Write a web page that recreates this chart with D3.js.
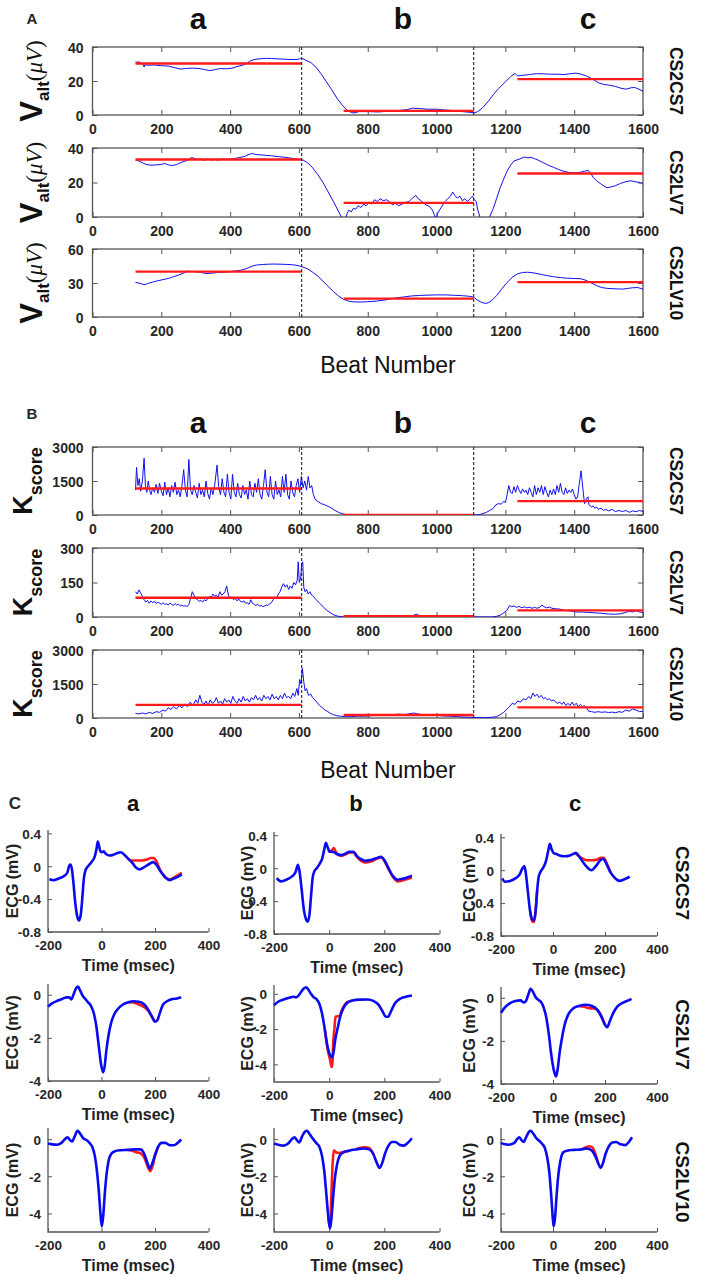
<!DOCTYPE html>
<html><head><meta charset="utf-8">
<script src="https://cdn.jsdelivr.net/npm/d3@7"></script>
<style>body{margin:0;background:#fff}svg{display:block}</style>
</head><body>
<script>
// ---------------- DATA ----------------
const leads = ["CS2CS7","CS2LV7","CS2LV10"];
const phases = ["a","b","c"];
const beatTicks = [0,200,400,600,800,1000,1200,1400,1600];
const phaseBounds = [[125,608],[730,1108],[1235,1600]];
const phaseDividers = [608,1108];

const valtTicks = [[0,20,40],[0,20,40],[0,30,60]];
const valtMax = [40,40,60];
const kTicks = [[0,1500,3000],[0,150,300],[0,1500,3000]];
const kMax = [3000,300,3000];

const valtMeans = [[30.3,2.4,21.1],[33.3,8.2,25.2],[40,16.2,30.8]];
const kMeans = [[1170,0,610],[84,3,29],[580,130,470]];

const valtCS2CS7 = [[125,31],[135,31.2],[142,30.5],[148,29.5],[150,28.2],[152,29.5],[160,29.3],[180,29.4],[200,29],[220,28.8],[240,27.8],[255,27],[270,27.3],[290,27.6],[310,27.3],[325,26.8],[340,26.1],[355,26.6],[370,27.3],[390,27.2],[405,27.5],[420,28.5],[440,29.5],[450,30.6],[460,32],[475,32.8],[490,33.1],[505,33.3],[520,33.2],[540,33],[560,32.8],[580,32.6],[595,32.7],[605,33.2],[612,33],[620,32.2],[635,30.8],[650,28],[665,24],[680,19.5],[695,15],[710,10],[725,6],[740,2.8],[752,1.5],[760,1.2],[775,2],[800,2],[830,1.8],[860,2.2],[890,2.6],[915,3.2],[930,4],[950,3.8],[975,3.4],[1000,3.4],[1020,3],[1050,2.6],[1075,2],[1095,1.6],[1110,1.3],[1120,2],[1135,4.5],[1150,8],[1165,12],[1180,15.5],[1200,19.5],[1215,22.5],[1228,24.5],[1235,23],[1250,23.3],[1270,23.8],[1290,24.3],[1310,24.2],[1330,24],[1350,24],[1370,23.8],[1390,24.3],[1405,24.6],[1420,24],[1435,23],[1450,21.5],[1460,20.3],[1470,19],[1485,18],[1500,17.6],[1520,16.8],[1535,15.8],[1550,15.2],[1565,16],[1575,16.2],[1585,15.5],[1600,14]];

const valtCS2LV7 = [[125,33],[135,32.5],[145,31.5],[155,30.5],[170,30],[185,30.2],[200,30.5],[210,31],[220,30.2],[232,29.8],[245,30.5],[260,31.8],[275,32.8],[288,34.5],[295,34],[305,33.3],[315,33.6],[325,32.8],[335,33.6],[345,33],[355,33.5],[365,33],[380,33.7],[395,33.4],[410,33.8],[425,34.4],[440,35],[455,36.3],[465,36.8],[475,36.2],[490,36],[505,35.7],[520,35.5],[540,35],[560,34.6],[580,34],[600,33.4],[612,33],[625,31.5],[640,28.5],[655,24.5],[670,20],[685,14.5],[700,9],[713,4],[722,0.5],[728,-1],[736,-1],[740,2],[745,4],[752,3],[758,5],[765,4.5],[772,6.5],[780,5.5],[788,7.5],[795,6.5],[805,8.5],[812,7.5],[820,10],[828,9],[836,10.5],[845,9.5],[855,10],[865,8.5],[872,7],[880,8],[890,6.5],[900,7.5],[910,8.5],[920,9],[930,11],[940,12.5],[947,10.5],[955,9.5],[962,8],[970,7],[980,6],[988,4],[994,1],[998,-1],[1003,2],[1010,4.5],[1018,7],[1025,9],[1032,10.5],[1040,12],[1047,14.5],[1053,12.5],[1060,11],[1068,12],[1075,9.5],[1082,10.5],[1090,9],[1097,10.5],[1104,12],[1110,10],[1115,9],[1120,4],[1126,0],[1130,-1],[1150,-1],[1155,0.5],[1165,5],[1175,11],[1185,17],[1195,22],[1205,26.5],[1215,30],[1225,32.5],[1240,33.5],[1255,34.8],[1265,34.3],[1275,34.6],[1285,33.8],[1295,33],[1310,31.5],[1325,30],[1340,28.8],[1355,27.5],[1370,26.5],[1385,25.8],[1400,25.5],[1415,25.8],[1430,26.5],[1440,27],[1448,25.5],[1455,23],[1465,21],[1480,18.8],[1495,17],[1505,17.3],[1520,18.2],[1535,19.5],[1550,20.5],[1565,21],[1580,20.3],[1592,20],[1600,19]];

const valtCS2LV10 = [[125,30.5],[135,30],[145,29],[152,28.5],[160,29.5],[175,30.8],[190,32],[205,33],[220,34],[235,35.5],[250,37],[265,38.8],[278,40.5],[285,40.2],[300,40],[315,39.3],[330,38.4],[345,38.6],[360,39.2],[375,39.5],[390,39.6],[405,40.2],[420,40.8],[435,41.5],[450,43],[465,45],[480,46],[495,46.3],[510,46.6],[525,46.7],[545,46.6],[565,46.4],[585,46],[600,45.2],[612,44],[625,42.5],[640,39.5],[655,36],[670,31.5],[685,27],[700,22.5],[715,18.5],[730,15.5],[745,14],[760,13.3],[780,13.2],[800,13.5],[825,14],[850,15],[875,16.5],[900,17.5],[925,18.5],[950,19],[975,19.3],[1000,19.5],[1025,19.5],[1050,19.2],[1075,18.8],[1095,18.3],[1108,17.5],[1118,15],[1130,13],[1142,12],[1150,12.5],[1160,14.5],[1175,19],[1190,25],[1205,30.5],[1220,35],[1235,38],[1250,39.3],[1265,39.5],[1280,39],[1295,38.2],[1310,37.2],[1325,36.3],[1340,35.5],[1360,34.8],[1380,34.2],[1400,34],[1420,33.7],[1435,32.3],[1450,30],[1465,27.7],[1480,26],[1495,25.3],[1510,25],[1525,24.8],[1540,24.6],[1555,25.2],[1570,25.8],[1585,26],[1600,24.5]];

const kscoreCS2CS7 = [[125,1100],[128,2100],[132,1300],[136,1600],[140,1050],[145,1500],[150,2500],[154,1200],[158,1000],[162,1500],[166,1100],[170,900],[175,1200],[180,1000],[185,1350],[190,950],[195,1400],[200,1050],[205,850],[210,1450],[215,900],[220,1200],[225,800],[230,1300],[235,1000],[240,1450],[245,900],[250,1100],[255,800],[260,1300],[265,2000],[270,1100],[275,800],[280,2450],[285,1100],[290,900],[295,1300],[300,1000],[305,750],[310,1400],[315,900],[320,1100],[325,800],[330,1500],[335,950],[340,700],[345,1200],[350,900],[355,1300],[362,2200],[367,1200],[372,900],[377,1600],[382,1000],[387,800],[392,1800],[397,1000],[402,700],[407,1800],[412,1000],[417,800],[422,1400],[427,900],[432,750],[437,1300],[442,900],[447,1100],[452,700],[457,1500],[462,900],[467,800],[472,1400],[477,1000],[482,1600],[487,900],[492,700],[497,1300],[502,2000],[507,1000],[512,800],[517,1700],[522,900],[527,700],[532,1500],[537,900],[542,1100],[547,800],[552,1700],[557,1000],[562,1800],[567,900],[572,700],[577,1500],[582,1000],[587,800],[592,1300],[597,1600],[602,1000],[607,1700],[612,1200],[617,1500],[622,1100],[627,1700],[632,1200],[637,1300],[642,900],[647,700],[655,600],[665,500],[675,450],[685,380],[695,300],[705,200],[715,120],[725,60],[735,25],[745,10],[760,0],[800,0],[900,0],[1000,0],[1100,0],[1115,5],[1125,20],[1135,60],[1145,120],[1155,200],[1165,300],[1172,450],[1180,500],[1188,480],[1195,600],[1200,550],[1205,900],[1210,1300],[1215,1000],[1220,950],[1225,1250],[1230,1000],[1235,1300],[1240,1100],[1245,950],[1250,1150],[1255,1000],[1260,1100],[1265,900],[1270,1200],[1275,1000],[1280,800],[1285,1300],[1290,900],[1295,1200],[1300,1000],[1305,1300],[1310,900],[1315,1250],[1320,1000],[1325,800],[1330,1100],[1335,900],[1340,1150],[1345,900],[1350,1300],[1355,1000],[1360,1400],[1365,1000],[1370,900],[1375,1200],[1380,950],[1385,1100],[1390,1000],[1395,1150],[1400,900],[1405,700],[1410,800],[1415,1400],[1420,1950],[1425,1200],[1430,500],[1435,700],[1440,800],[1443,450],[1450,350],[1455,400],[1460,300],[1465,350],[1470,250],[1478,300],[1485,200],[1492,250],[1500,180],[1510,250],[1520,150],[1530,200],[1540,150],[1550,200],[1560,120],[1570,180],[1580,150],[1590,200],[1600,150]];

const kscoreCS2LV7 = [[125,110],[130,100],[135,118],[140,105],[145,90],[150,75],[155,65],[160,72],[165,60],[170,70],[175,62],[180,68],[185,58],[190,65],[195,60],[200,55],[205,62],[210,55],[215,58],[220,52],[225,60],[230,55],[235,50],[240,58],[245,52],[250,55],[255,48],[260,52],[265,47],[270,50],[275,45],[280,55],[285,80],[290,110],[295,95],[300,80],[305,75],[310,68],[315,72],[320,65],[325,75],[330,70],[335,80],[340,90],[345,85],[350,100],[355,90],[360,95],[365,85],[370,110],[375,95],[380,100],[385,110],[390,135],[395,95],[400,80],[405,85],[410,75],[415,82],[420,70],[425,78],[430,68],[435,65],[440,70],[445,60],[450,62],[455,55],[460,75],[465,60],[470,55],[475,50],[480,55],[485,48],[490,50],[495,45],[500,48],[505,52],[510,50],[515,58],[520,62],[525,75],[530,85],[535,80],[540,100],[545,110],[550,130],[555,145],[560,130],[565,140],[570,120],[575,135],[580,125],[585,150],[590,140],[595,160],[598,240],[601,150],[605,170],[608,230],[611,240],[614,130],[618,110],[622,120],[627,100],[632,110],[637,95],[642,90],[650,75],[660,60],[670,45],[680,30],[690,20],[700,10],[712,4],[725,1],[740,0],[770,2],[800,3],[830,5],[850,7],[870,3],[900,4],[930,6],[942,12],[950,6],[980,3],[1020,2],[1060,1],[1100,1],[1130,0],[1160,0],[1175,3],[1185,8],[1195,18],[1205,30],[1212,50],[1218,45],[1225,48],[1232,42],[1240,46],[1248,40],[1255,44],[1262,40],[1270,42],[1278,38],[1285,42],[1292,38],[1300,42],[1306,52],[1312,45],[1320,40],[1328,43],[1335,38],[1345,36],[1355,35],[1365,32],[1375,28],[1385,27],[1395,25],[1405,22],[1420,22],[1440,20],[1460,18],[1480,16],[1500,13],[1520,12],[1535,14],[1550,20],[1560,25],[1570,22],[1580,27],[1590,22],[1600,20]];

const kscoreCS2LV10 = [[125,200],[135,180],[145,220],[155,180],[165,250],[175,200],[185,280],[195,250],[205,350],[212,300],[220,450],[228,380],[236,500],[244,400],[252,550],[260,450],[268,600],[276,500],[284,700],[292,550],[300,800],[306,650],[312,1000],[318,700],[324,600],[330,750],[336,550],[342,800],[348,650],[354,700],[360,900],[366,650],[372,750],[378,600],[384,850],[390,700],[396,800],[402,650],[408,950],[414,750],[420,650],[426,850],[432,700],[438,950],[444,750],[450,850],[456,700],[462,900],[468,800],[474,1000],[480,800],[486,900],[492,750],[498,1000],[504,850],[510,950],[516,800],[522,1050],[528,850],[534,950],[540,800],[546,1000],[552,850],[558,1100],[564,900],[570,950],[576,850],[582,1100],[588,950],[594,1300],[598,1000],[602,1700],[606,1500],[610,2200],[614,1600],[618,1200],[622,1300],[628,1000],[634,1050],[640,900],[646,800],[652,700],[660,550],[668,450],[676,350],[684,280],[692,200],[700,150],[710,100],[720,80],[735,60],[750,60],[770,80],[790,80],[810,100],[830,120],[850,160],[860,130],[875,150],[890,170],[905,150],[920,180],[935,220],[945,180],[960,150],[980,140],[1000,120],[1020,90],[1040,80],[1060,60],[1080,40],[1100,30],[1120,20],[1140,20],[1160,30],[1175,60],[1185,150],[1195,250],[1205,400],[1212,500],[1220,650],[1228,600],[1236,750],[1244,700],[1252,850],[1260,800],[1268,950],[1274,850],[1280,1100],[1286,950],[1292,1050],[1298,900],[1304,1000],[1310,850],[1316,900],[1322,800],[1328,850],[1334,750],[1340,800],[1346,700],[1352,650],[1358,700],[1364,600],[1370,700],[1376,550],[1382,650],[1388,550],[1394,700],[1400,550],[1406,650],[1412,500],[1418,600],[1424,500],[1430,550],[1436,450],[1442,300],[1450,280],[1460,250],[1470,280],[1480,250],[1490,270],[1500,240],[1510,260],[1520,230],[1530,280],[1540,250],[1550,350],[1560,300],[1570,400],[1580,350],[1590,280],[1600,300]];

// ECG (time ms, mV); red traces are given as the segments where they separate from blue
const timeTicks = [-200,0,200,400];
const ecgYTicks = [[0.4,0,-0.4,-0.8],[0,-2,-4],[0,-2,-4]];
const ecgYDomains = [[[-0.8,0.44],[-0.8,0.44],[-0.8,0.44]],[[-4,0.5],[-5,0.5],[-4,0.5]],[[-5,0.6],[-5,0.6],[-5,0.6]]];

const ecgBlue_CS2CS7_a = [[-195,-0.16],[-180,-0.17],[-160,-0.15],[-140,-0.12],[-128,-0.08],[-120,0.01],[-115,0.02],[-110,-0.05],[-105,-0.2],[-98,-0.45],[-90,-0.62],[-84,-0.66],[-78,-0.6],[-72,-0.4],[-66,-0.15],[-60,-0.05],[-55,-0.02],[-45,0.02],[-35,0.06],[-25,0.12],[-18,0.22],[-14,0.3],[-10,0.26],[-4,0.18],[2,0.17],[8,0.18],[16,0.15],[30,0.13],[45,0.14],[60,0.16],[72,0.17],[85,0.14],[100,0.09],[115,0.04],[130,-0.02],[142,-0.04],[160,-0.01],[180,0.03],[193,0.05],[205,0.02],[220,-0.06],[240,-0.14],[256,-0.17],[270,-0.15],[285,-0.13],[300,-0.1]];
const ecgRed_CS2CS7_a = [[[100,0.09],[112,0.07],[130,0.07],[150,0.07],[170,0.08],[185,0.1],[195,0.1],[205,0.06],[218,-0.04],[230,-0.1],[240,-0.14],[256,-0.16],[270,-0.14],[285,-0.11],[300,-0.08]]];
const ecgBlue_CS2CS7_b = [[-190,-0.12],[-175,-0.16],[-155,-0.14],[-135,-0.1],[-122,-0.05],[-113,0.04],[-107,-0.05],[-100,-0.25],[-92,-0.5],[-84,-0.62],[-78,-0.65],[-72,-0.58],[-66,-0.35],[-60,-0.12],[-54,-0.04],[-45,0.0],[-35,0.05],[-25,0.12],[-17,0.24],[-12,0.31],[-6,0.26],[2,0.2],[12,0.2],[20,0.19],[30,0.17],[45,0.16],[60,0.18],[75,0.2],[88,0.2],[100,0.15],[115,0.11],[130,0.09],[150,0.1],[170,0.12],[188,0.14],[200,0.1],[215,0.0],[232,-0.1],[248,-0.14],[265,-0.13],[285,-0.11],[300,-0.09]];
const ecgRed_CS2CS7_b = [[[2,0.2],[10,0.22],[17,0.245],[24,0.2],[30,0.17],[45,0.15],[60,0.17],[75,0.19],[88,0.19],[100,0.14],[115,0.09],[130,0.07],[150,0.08],[170,0.11],[188,0.13],[200,0.09],[215,-0.01],[232,-0.11],[248,-0.16],[265,-0.15],[285,-0.13],[300,-0.11]]];
const ecgBlue_CS2CS7_c = [[-195,-0.1],[-185,-0.14],[-165,-0.13],[-145,-0.1],[-128,-0.05],[-118,0.02],[-110,0.05],[-104,-0.05],[-96,-0.28],[-88,-0.5],[-80,-0.6],[-73,-0.61],[-67,-0.5],[-61,-0.25],[-55,-0.08],[-48,-0.02],[-38,0.03],[-28,0.1],[-18,0.24],[-12,0.32],[-6,0.26],[2,0.21],[10,0.2],[25,0.18],[45,0.17],[65,0.18],[80,0.2],[88,0.21],[100,0.17],[115,0.1],[130,0.04],[148,0.0],[165,0.05],[182,0.12],[192,0.14],[205,0.08],[220,-0.02],[240,-0.1],[255,-0.13],[275,-0.11],[295,-0.08]];
const ecgRed_CS2CS7_c = [[[-88,-0.5],[-80,-0.62],[-73,-0.63],[-67,-0.5],[-61,-0.25]],[[85,0.21],[100,0.17],[115,0.14],[130,0.12],[150,0.12],[170,0.13],[185,0.15],[195,0.15],[210,0.06],[222,-0.03]]];

const ecgBlue_CS2LV7_a = [[-200,-0.55],[-185,-0.4],[-165,-0.28],[-145,-0.18],[-130,-0.12],[-120,-0.12],[-113,-0.22],[-105,0.0],[-95,0.3],[-88,0.38],[-80,0.2],[-70,-0.05],[-60,-0.2],[-50,-0.35],[-40,-0.5],[-30,-0.8],[-20,-1.4],[-10,-2.4],[-2,-3.2],[6,-3.6],[12,-3.3],[18,-2.6],[26,-1.9],[36,-1.3],[48,-0.9],[62,-0.65],[80,-0.45],[100,-0.35],[120,-0.3],[140,-0.32],[160,-0.45],[175,-0.7],[188,-1.0],[200,-1.25],[208,-1.2],[218,-0.85],[230,-0.45],[245,-0.3],[265,-0.2],[282,-0.17],[298,-0.12]];
const ecgRed_CS2LV7_a = [[[100,-0.35],[120,-0.36],[140,-0.45],[160,-0.58],[175,-0.75],[188,-1.0],[200,-1.25]]];
const ecgBlue_CS2LV7_b = [[-200,-0.65],[-185,-0.45],[-165,-0.32],[-145,-0.22],[-130,-0.17],[-120,-0.2],[-112,-0.12],[-102,0.1],[-92,0.3],[-84,0.37],[-76,0.25],[-66,0.0],[-56,-0.2],[-46,-0.3],[-36,-0.55],[-26,-1.1],[-16,-2.0],[-6,-3.0],[4,-3.5],[10,-3.6],[16,-3.3],[22,-2.6],[30,-2.0],[40,-1.3],[52,-0.8],[66,-0.5],[85,-0.38],[110,-0.33],[140,-0.32],[160,-0.4],[178,-0.6],[192,-0.95],[206,-1.3],[214,-1.3],[224,-1.0],[238,-0.55],[255,-0.3],[275,-0.18],[300,-0.1]];
const ecgRed_CS2LV7_b = [[[-16,-2.0],[-6,-3.1],[4,-3.8],[9,-4.15],[12,-3.9],[15,-2.7],[19,-2.0],[23,-1.3],[38,-1.25],[44,-1.0],[52,-0.72],[66,-0.47],[85,-0.38]]];
const ecgBlue_CS2LV7_c = [[-200,-0.7],[-185,-0.45],[-165,-0.25],[-145,-0.15],[-125,-0.12],[-112,-0.22],[-104,-0.15],[-95,0.15],[-86,0.42],[-78,0.3],[-68,0.05],[-56,-0.1],[-46,-0.2],[-36,-0.45],[-26,-0.9],[-16,-1.7],[-6,-2.7],[4,-3.4],[12,-3.65],[18,-3.3],[26,-2.5],[34,-1.9],[46,-1.2],[60,-0.75],[75,-0.52],[100,-0.38],[125,-0.32],[150,-0.38],[170,-0.55],[185,-0.85],[200,-1.25],[208,-1.37],[218,-1.1],[232,-0.7],[248,-0.4],[270,-0.22],[290,-0.12],[302,-0.05]];
const ecgRed_CS2LV7_c = [[[100,-0.38],[120,-0.42],[140,-0.48],[160,-0.5],[175,-0.62],[190,-0.95],[200,-1.25]]];

const ecgBlue_CS2LV10_a = [[-200,-0.23],[-185,-0.28],[-165,-0.3],[-150,-0.2],[-135,0.02],[-127,0.1],[-118,-0.05],[-110,-0.12],[-100,0.15],[-90,0.45],[-80,0.3],[-68,0.05],[-56,-0.05],[-45,-0.2],[-35,-0.4],[-25,-0.9],[-18,-1.6],[-10,-2.8],[-4,-4.0],[1,-4.7],[6,-4.2],[12,-3.0],[18,-2.0],[26,-1.2],[36,-0.8],[50,-0.65],[70,-0.6],[100,-0.58],[125,-0.55],[145,-0.55],[160,-0.8],[172,-1.3],[180,-1.58],[190,-1.3],[200,-0.85],[212,-0.4],[225,-0.2],[238,-0.2],[255,-0.32],[270,-0.33],[285,-0.2],[298,-0.02]];
const ecgRed_CS2LV10_a = [[[100,-0.58],[115,-0.62],[130,-0.7],[145,-0.75],[160,-1.0],[172,-1.45],[182,-1.72],[192,-1.4],[200,-0.9],[212,-0.42]]];
const ecgBlue_CS2LV10_b = [[-200,-0.23],[-185,-0.3],[-165,-0.35],[-150,-0.25],[-135,0.0],[-126,0.1],[-117,-0.05],[-109,-0.18],[-98,0.15],[-88,0.4],[-80,0.45],[-70,0.25],[-58,0.0],[-46,-0.22],[-36,-0.4],[-26,-0.9],[-18,-1.7],[-10,-3.0],[-3,-4.2],[3,-4.8],[8,-4.3],[14,-3.2],[20,-2.2],[28,-1.4],[38,-0.9],[52,-0.7],[72,-0.62],[100,-0.55],[125,-0.5],[145,-0.55],[160,-0.8],[172,-1.25],[183,-1.55],[193,-1.25],[203,-0.75],[215,-0.35],[228,-0.15],[240,-0.15],[255,-0.3],[270,-0.35],[285,-0.2],[300,0.05]];
const ecgRed_CS2LV10_b = [[[-3,-4.2],[3,-4.8],[8,-3.0],[13,-1.2],[17,-0.6],[24,-0.7],[34,-0.75],[44,-0.72],[52,-0.7],[72,-0.62]],[[100,-0.52],[125,-0.44],[140,-0.45],[152,-0.58],[162,-0.85]]];
const ecgBlue_CS2LV10_c = [[-200,-0.2],[-185,-0.28],[-170,-0.3],[-150,-0.22],[-138,0.0],[-130,0.1],[-121,-0.05],[-113,-0.15],[-102,0.15],[-92,0.4],[-86,0.45],[-76,0.3],[-64,0.05],[-52,-0.1],[-42,-0.25],[-32,-0.45],[-22,-1.0],[-14,-1.8],[-6,-3.2],[0,-4.4],[3,-4.7],[8,-4.2],[14,-3.0],[20,-2.0],[28,-1.2],[40,-0.7],[55,-0.62],[80,-0.58],[110,-0.55],[130,-0.5],[148,-0.6],[162,-0.9],[174,-1.3],[183,-1.55],[192,-1.3],[202,-0.8],[214,-0.4],[228,-0.18],[243,-0.15],[260,-0.28],[278,-0.32],[292,-0.15],[304,0.1]];
const ecgRed_CS2LV10_c = [[[110,-0.55],[125,-0.45],[140,-0.38],[152,-0.45],[163,-0.8],[174,-1.3]]];

const ecgBlue = [[ecgBlue_CS2CS7_a,ecgBlue_CS2CS7_b,ecgBlue_CS2CS7_c],[ecgBlue_CS2LV7_a,ecgBlue_CS2LV7_b,ecgBlue_CS2LV7_c],[ecgBlue_CS2LV10_a,ecgBlue_CS2LV10_b,ecgBlue_CS2LV10_c]];
const ecgRed = [[ecgRed_CS2CS7_a,ecgRed_CS2CS7_b,ecgRed_CS2CS7_c],[ecgRed_CS2LV7_a,ecgRed_CS2LV7_b,ecgRed_CS2LV7_c],[ecgRed_CS2LV10_a,ecgRed_CS2LV10_b,ecgRed_CS2LV10_c]];

// ---------------- DRAWING ----------------
const W = 709, H = 1274;
const FONT = "'Liberation Sans', Arial, Helvetica, sans-serif";
const AXC = "#555", TXT = "#262626", BLUE = "#1010ee", RED = "#ff1a1a";
const svg = d3.select("body").append("svg").attr("width", W).attr("height", H)
  .style("font-family", FONT);
const defs = svg.append("defs");
let clipId = 0;

const beatX = d3.scaleLinear().domain([0,1600]).range([92.5,643]);
const rowsA = [[47,115],[148,217],[249,317]];
const rowsB = [[447,515],[548,617],[650,718]];

function txt(g, x, y, s, size, opts = {}) {
  return g.append("text").attr("x", x).attr("y", y).text(s)
    .attr("font-size", size).attr("font-weight", opts.weight || "bold")
    .attr("fill", opts.fill || TXT).attr("text-anchor", opts.anchor || "middle")
    .attr("dominant-baseline", opts.baseline || "central");
}

function styleAxis(g) {
  g.select(".domain").remove();
  g.selectAll(".tick line").attr("stroke", AXC).attr("stroke-width", 1);
  g.selectAll(".tick text").attr("fill", TXT).attr("font-size", 14).attr("font-weight", "bold")
    .attr("font-family", FONT);
}

function beatPanel(top, bottom, yMax, yTicks, series, means, lead, labelType) {
  const y = d3.scaleLinear().domain([0, yMax]).range([bottom, top]);
  const g = svg.append("g");
  const id = "clip" + (clipId++);
  defs.append("clipPath").attr("id", id).append("rect")
    .attr("x", beatX(0)).attr("y", top).attr("width", beatX(1600) - beatX(0)).attr("height", bottom - top);
  const fmt = d => String(d);
  const ax = g.append("g").attr("transform", `translate(0,${bottom})`)
    .call(d3.axisBottom(beatX).tickValues(beatTicks).tickFormat(fmt).tickSizeInner(-5).tickSizeOuter(0).tickPadding(9));
  styleAxis(ax);
  const axT = g.append("g").attr("transform", `translate(0,${top})`)
    .call(d3.axisTop(beatX).tickValues(beatTicks).tickFormat("").tickSizeInner(-5).tickSizeOuter(0));
  styleAxis(axT);
  const ay = g.append("g").attr("transform", `translate(${beatX(0)},0)`)
    .call(d3.axisLeft(y).tickValues(yTicks).tickFormat(fmt).tickSizeInner(-5).tickSizeOuter(0).tickPadding(9));
  styleAxis(ay);
  ay.selectAll(".tick text").attr("dy", "0.36em");
  const ayR = g.append("g").attr("transform", `translate(${beatX(1600)},0)`)
    .call(d3.axisRight(y).tickValues(yTicks).tickFormat("").tickSizeInner(-5).tickSizeOuter(0));
  styleAxis(ayR);
  g.append("rect").attr("x", beatX(0)).attr("y", top).attr("width", beatX(1600) - beatX(0))
    .attr("height", bottom - top).attr("fill", "none").attr("stroke", AXC).attr("stroke-width", 1.3);

  const pg = g.append("g").attr("clip-path", `url(#${id})`);
  const line = d3.line().x(d => beatX(d[0])).y(d => y(d[1]));
  pg.append("path").datum(series).attr("d", line).attr("fill", "none")
    .attr("stroke", BLUE).attr("stroke-width", 1).attr("stroke-linejoin", "round");
  means.forEach((m, i) => {
    pg.append("line").attr("x1", beatX(phaseBounds[i][0])).attr("x2", beatX(phaseBounds[i][1]))
      .attr("y1", y(m)).attr("y2", y(m)).attr("stroke", RED).attr("stroke-width", 2.4);
  });
  phaseDividers.forEach(b => {
    g.append("line").attr("x1", beatX(b)).attr("x2", beatX(b)).attr("y1", top).attr("y2", bottom)
      .attr("stroke", "#111").attr("stroke-width", 1).attr("stroke-dasharray", "3,2");
  });
  const cy = (top + bottom) / 2;
  txt(g, 0, 0, lead, 17.5).attr("transform", `translate(676,${cy}) rotate(90)`).attr("fill", "#111");
  if (labelType === "valt") {
    const t = g.append("text").attr("transform", `translate(42,${cy}) rotate(-90)`)
      .attr("text-anchor", "middle").attr("fill", "#111");
    t.append("tspan").text("V").attr("font-size", 31).attr("font-weight", "bold");
    t.append("tspan").text("alt").attr("font-size", 17).attr("font-weight", "bold").attr("dy", 7);
    t.append("tspan").text("(").attr("font-size", 23).attr("dy", -7)
      .attr("font-family", "'Liberation Serif', 'DejaVu Serif', serif");
    t.append("tspan").text("μV").attr("font-size", 23).attr("font-style", "italic")
      .attr("font-family", "'Liberation Serif', 'DejaVu Serif', serif");
    t.append("tspan").text(")").attr("font-size", 23)
      .attr("font-family", "'Liberation Serif', 'DejaVu Serif', serif");
  } else {
    const t = g.append("text").attr("transform", `translate(32,${cy}) rotate(-90)`)
      .attr("text-anchor", "middle").attr("fill", "#111");
    t.append("tspan").text("K").attr("font-size", 27).attr("font-weight", "bold");
    t.append("tspan").text("score").attr("font-size", 18).attr("font-weight", "bold").attr("dy", 10);
  }
}

txt(svg, 32, 18, "A", 15);
txt(svg, 32, 413, "B", 15);
[198, 403, 588].forEach((x, i) => {
  txt(svg, x, 18, phases[i], 30).attr("fill", "#111");
  txt(svg, x, 422, phases[i], 30).attr("fill", "#111");
});

const valtSeries = [valtCS2CS7, valtCS2LV7, valtCS2LV10];
const kSeries = [kscoreCS2CS7, kscoreCS2LV7, kscoreCS2LV10];
leads.forEach((lead, i) => {
  beatPanel(rowsA[i][0], rowsA[i][1], valtMax[i], valtTicks[i], valtSeries[i], valtMeans[i], lead, "valt");
  beatPanel(rowsB[i][0], rowsB[i][1], kMax[i], kTicks[i], kSeries[i], kMeans[i], lead, "k");
});
txt(svg, 388, 365, "Beat Number", 23, {weight: "normal", fill: "#111"});
txt(svg, 388, 770, "Beat Number", 23, {weight: "normal", fill: "#111"});

// Panel C
txt(svg, 15, 803, "C", 17);
const colX = [[48,208.5],[274,439.5],[501,657]];
const colHead = [133, 356, 575];
colHead.forEach((x, i) => txt(svg, x, 803, phases[i], 22).attr("fill", "#111"));
const rowsC = [[830,932],[984,1081],[1128,1232]];
const rowDy = [[0,2,4],[0,1,3],[0,0,0]];
const ecgLabelOff = [36, 27, 32];

function ecgPanel(r, c) {
  const [x0, x1] = colX[c];
  const top = rowsC[r][0] + rowDy[r][c], bottom = rowsC[r][1] + rowDy[r][c];
  const x = d3.scaleLinear().domain([-200,400]).range([x0, x1]);
  const y = d3.scaleLinear().domain(ecgYDomains[r][c]).range([bottom, top]);
  const g = svg.append("g");
  const fmt = d => String(d);
  const ax = g.append("g").attr("transform", `translate(0,${bottom})`)
    .call(d3.axisBottom(x).tickValues(timeTicks).tickFormat(fmt).tickSizeInner(-4).tickSizeOuter(0).tickPadding(8));
  styleAxis(ax); ax.selectAll(".tick text").attr("font-size", 13.5);
  const ay = g.append("g").attr("transform", `translate(${x0},0)`)
    .call(d3.axisLeft(y).tickValues(ecgYTicks[r]).tickFormat(fmt).tickSizeInner(-4).tickSizeOuter(0).tickPadding(7));
  styleAxis(ay); ay.selectAll(".tick text").attr("font-size", 13.5).attr("dy", "0.36em");
  g.append("path").attr("d", `M${x0},${top}V${bottom}H${x1}`).attr("fill", "none")
    .attr("stroke", AXC).attr("stroke-width", 1.3);
  const line = d3.line().x(d => x(d[0])).y(d => y(d[1])).curve(d3.curveMonotoneX);
  ecgRed[r][c].forEach(seg => {
    g.append("path").datum(seg).attr("d", line).attr("fill", "none")
      .attr("stroke", RED).attr("stroke-width", 2.6).attr("stroke-linejoin", "round");
  });
  g.append("path").datum(ecgBlue[r][c]).attr("d", line).attr("fill", "none")
    .attr("stroke", "#0a0af0").attr("stroke-width", 2.6).attr("stroke-linejoin", "round");
  txt(g, (x0 + x1) / 2, bottom + 33, "Time (msec)", 16).attr("fill", "#222");
  txt(g, 0, 0, "ECG (mV)", 16).attr("fill", "#222")
    .attr("transform", `translate(${x0 - ecgLabelOff[c]},${(top + bottom) / 2}) rotate(-90)`);
}
for (let r = 0; r < 3; r++) {
  for (let c = 0; c < 3; c++) ecgPanel(r, c);
  txt(svg, 0, 0, leads[r], 19).attr("fill", "#111")
    .attr("transform", `translate(682,${(rowsC[r][0] + rowsC[r][1]) / 2 + 2}) rotate(90)`);
}
</script>
</body></html>
